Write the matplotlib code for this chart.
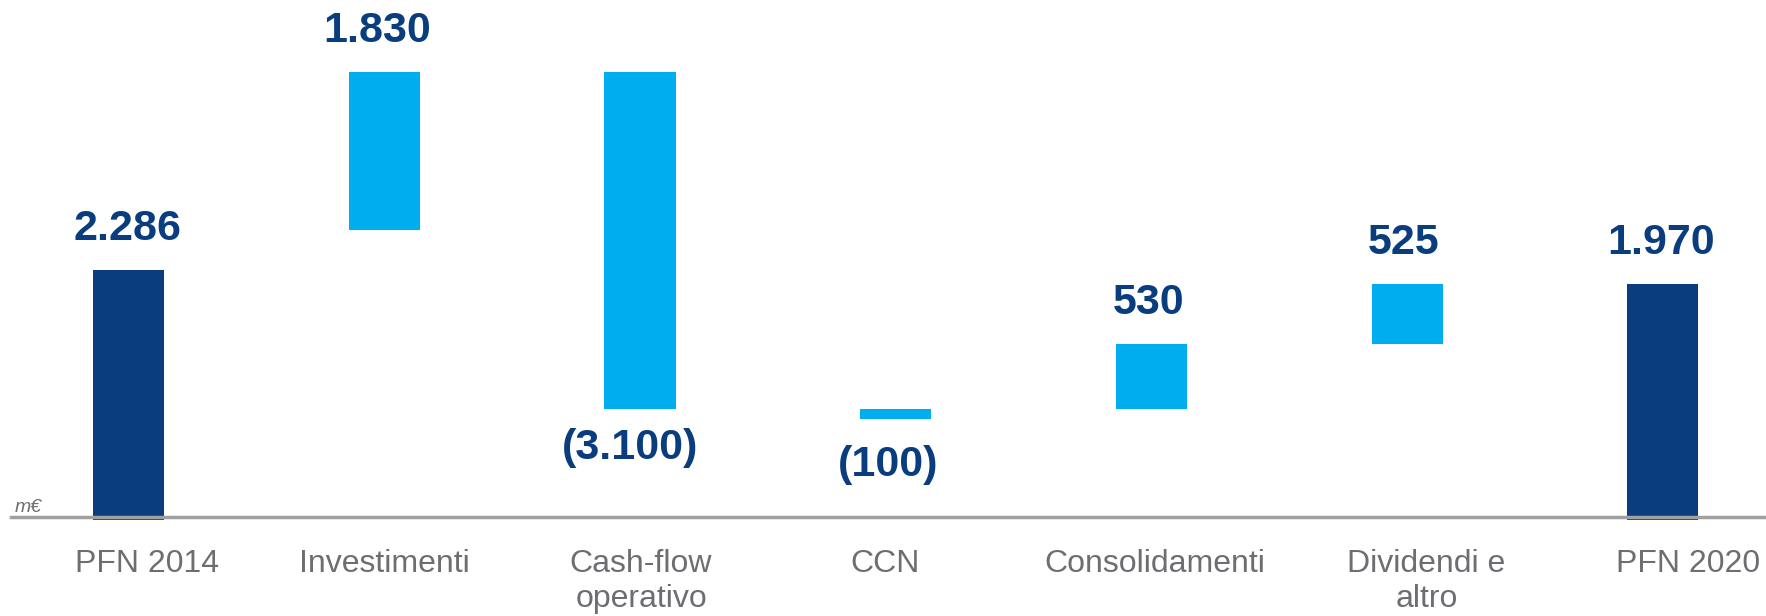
import matplotlib
matplotlib.use("Agg")
import matplotlib.pyplot as plt

# categories and labels as printed on the chart (m€)
categories = ["PFN 2014", "Investimenti", "Cash-flow\noperativo", "CCN",
              "Consolidamenti", "Dividendi e\naltro", "PFN 2020"]
value_labels = ["2.286", "1.830", "(3.100)", "(100)", "530", "525", "1.970"]

# bar extents as drawn on the slide (not to scale with the labels)
bar_bottom = [0, 2430, 915, 825, 915, 1460, 0]
bar_top = [2085, 3760, 3760, 915, 1460, 1970, 1970]
is_total = [True, False, False, False, False, False, True]
label_above = [True, True, False, False, True, True, True]

NAVY = "#0A3D7E"
LIGHT = "#00AEEF"
GREY_TXT = "#6D6E71"
GREY_LINE = "#A0A0A0"
FONT = "Liberation Sans"

fig = plt.figure(figsize=(17.66, 6.16), dpi=100)
ax = fig.add_axes([0, 0, 1, 1])
ax.set_xlim(-0.5025, 6.403)
ax.set_ylim(-837, 4371)
ax.axis("off")

x = list(range(len(categories)))
heights = [t - b for t, b in zip(bar_top, bar_bottom)]
colors = [NAVY if tot else LIGHT for tot in is_total]
# totals poke a little below the baseline
bottoms = [b - 25 if tot else b for b, tot in zip(bar_bottom, is_total)]
heights = [h + 25 if tot else h for h, tot in zip(heights, is_total)]
ax.bar(x, heights, bottom=bottoms, width=0.278, color=colors, zorder=2)

# baseline
ax.axhline(0, xmin=11 / 1766, xmax=1, color=GREY_LINE, lw=2.5, zorder=3)
ax.text(-0.445, 45, "m€", fontsize=14, style="italic", color=GREY_TXT,
        family=FONT, va="baseline", ha="left")

# value labels
value_nudge = [-0.004, -0.026, -0.04, -0.031, -0.013, -0.013, -0.009]
below_offset = [0, 0, -50, -57, 0, 0, 0]
for i in x:
    if label_above[i]:
        xy, dy = (i + value_nudge[i], bar_top[i]), 30
    else:
        xy, dy = (i + value_nudge[i], bar_bottom[i]), below_offset[i]
    ax.annotate(value_labels[i], xy, xytext=(0, dy),
                textcoords="offset pixels", ha="center", va="baseline",
                fontsize=31, fontweight="bold", color=NAVY, family=FONT)

# category labels (slightly off-centre, as on the slide), one line at a time
label_nudge = [0.072, 0, 0.004, -0.04, 0.012, 0.075, 0.098]
line_y = [-465, -761]
for i in x:
    for k, line in enumerate(categories[i].split("\n")):
        ax.text(i + label_nudge[i], line_y[k], line, ha="center",
                va="baseline", fontsize=23, color=GREY_TXT, family=FONT)

fig.savefig("out.png", dpi=100)
